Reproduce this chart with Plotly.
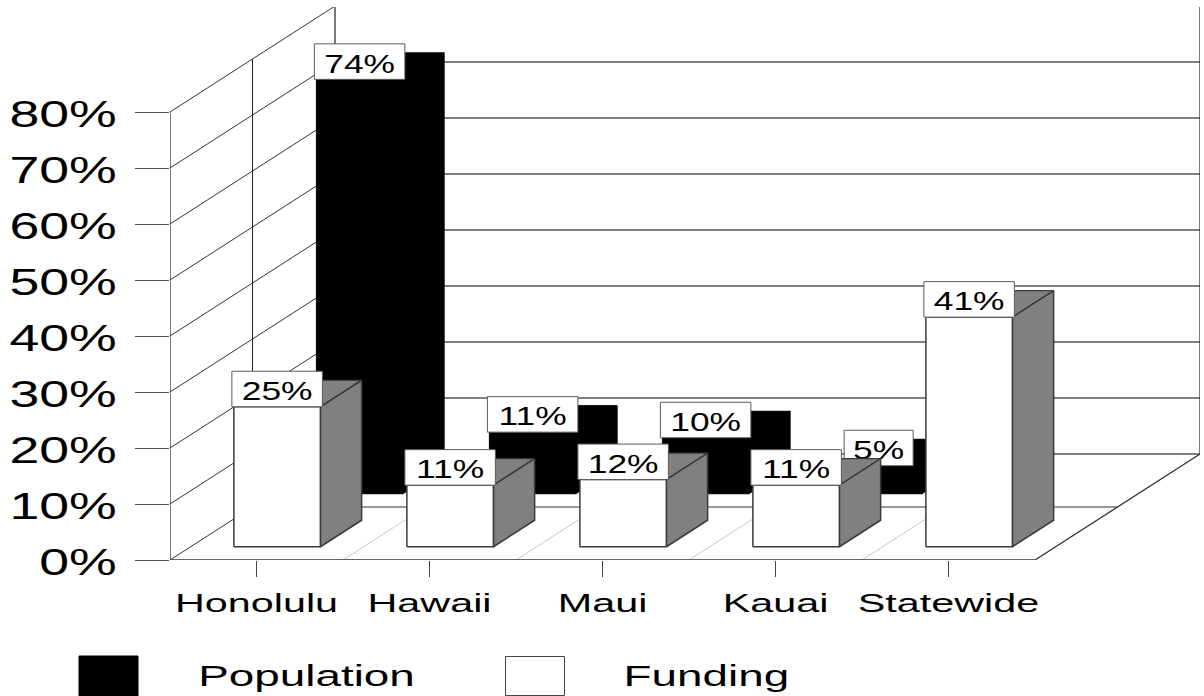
import plotly.graph_objects as go

categories = ["Honolulu", "Hawaii", "Maui", "Kauai", "Statewide"]
population = [74, 11, 10, 5, None]
funding = [25, 11, 12, 11, 41]
value_ticks = [0, 10, 20, 30, 40, 50, 60, 70, 80]
tick_labels = ["0%", "10%", "20%", "30%", "40%", "50%", "60%", "70%", "80%"]
legend_names = ["Population", "Funding"]

W, H = 1204, 696
PX_X = 173.0      # pixels per category
PX_Y = 5.6        # pixels per percent
L, T, R, B = 170, 7, 4, 136
DEPTH_X = 165 / PX_X   # oblique projection of full depth, in axis units
DEPTH_Y = 106 / PX_Y
BAR_W = 0.5
BAR_GAP = 0.25
FUND_D = (0.125, 0.375)
POP_D = (0.625, 0.875)
GREY = "#808080"
EDGE = "#3a3a3a"


def proj(x, v, d):
    return x + d * DEPTH_X, v + d * DEPTH_Y


def poly(points):
    xs, ys = zip(*[proj(*p) for p in points])
    return list(xs) + [xs[0], None], list(ys) + [ys[0], None]


def line_trace(segments, color, width, name):
    xs, ys = [], []
    for a, b in segments:
        p, q = proj(*a), proj(*b)
        xs += [p[0], q[0], None]
        ys += [p[1], q[1], None]
    return go.Scatter(x=xs, y=ys, mode="lines", line=dict(color=color, width=width),
                      hoverinfo="skip", showlegend=False, name=name)


def faces(values, depth):
    d0, d1 = depth
    front, side, top = ([], []), ([], []), ([], [])
    for i, v in enumerate(values):
        if v is None:
            continue
        x0, x1 = i + BAR_GAP, i + BAR_GAP + BAR_W
        for store, pts in (
            (front, [(x0, 0, d0), (x1, 0, d0), (x1, v, d0), (x0, v, d0)]),
            (side, [(x1, 0, d0), (x1, 0, d1), (x1, v, d1), (x1, v, d0)]),
            (top, [(x0, v, d0), (x1, v, d0), (x1, v, d1), (x0, v, d1)]),
        ):
            a, b = poly(pts)
            store[0].extend(a)
            store[1].extend(b)
    return front, side, top


def fill_trace(xy, fill, edge, width, name):
    return go.Scatter(x=xy[0], y=xy[1], mode="lines", fill="toself", fillcolor=fill,
                      line=dict(color=edge, width=width), hoverinfo="skip",
                      showlegend=False, name=name)


def labels(values, depth, name):
    bx, by, tx, ty, tt = [], [], [], [], []
    for i, v in enumerate(values):
        if v is None:
            continue
        s = f"{v}%"
        w = (69 if len(s) == 2 else 90.5) / PX_X
        h = 35.5 / PX_Y
        cx, base = proj(i + BAR_GAP + BAR_W / 2, v, depth[0])
        bx += [cx - w / 2, cx + w / 2, cx + w / 2, cx - w / 2, cx - w / 2, None]
        by += [base, base, base + h, base + h, base, None]
        tx.append(cx)
        ty.append(base + h / 2 - 4.5 / PX_Y)
        tt.append(s)
    return [
        go.Scatter(x=bx, y=by, mode="lines", fill="toself", fillcolor="white",
                   line=dict(color="#5a5a5a", width=1), hoverinfo="skip",
                   showlegend=False, name=name + " label box"),
        go.Scatter(x=tx, y=ty, mode="text", text=tt, textposition="middle center",
                   textfont=dict(family="Liberation Sans", size=26, color="black"),
                   hoverinfo="skip", showlegend=False, name=name + " labels"),
    ]


n = len(categories)
traces = []

# walls and floor
left_wall = [((0, v, 0), (0, v, 1)) for v in value_ticks]
back_wall = [((0, v, 1), (n, v, 1)) for v in value_ticks]
frame = [((0, 0, 0), (0, 80, 0)), ((0, 0, 1), (0, 80, 1)), ((n, 0, 1), (n, 80, 1)),
         ((0, 0, 0), (n, 0, 0)), ((n, 0, 0), (n, 0, 1))]
mid = [((0, 0, 0.5), (0, 80, 0.5))]
floor_mid = [((0, 0, 0.5), (n, 0, 0.5))]
floor_grid = [((i, 0, 0), (i, 0, 1)) for i in range(1, n)]
traces.append(line_trace(floor_grid, "#c8c8c8", 1, "floor grid"))
traces.append(line_trace(floor_mid, "#777777", 1.5, "floor mid"))
traces.append(line_trace(back_wall, "#555555", 1.3, "back wall"))
traces.append(line_trace(left_wall, "#333333", 1, "left wall"))
traces.append(line_trace(mid, "#222222", 1, "wall mid"))
traces.append(line_trace(frame, "#333333", 1.3, "frame"))

# population
pf, ps, pt = faces(population, POP_D)
for xy in (pf, ps, pt):
    traces.append(fill_trace(xy, "black", "black", 1, legend_names[0]))
traces += labels(population, POP_D, legend_names[0])

# funding
ff, fs, ft = faces(funding, FUND_D)
traces.append(fill_trace(ft, GREY, EDGE, 1.2, legend_names[1]))
traces.append(fill_trace(fs, GREY, EDGE, 1.5, legend_names[1]))
traces.append(fill_trace(ff, "white", EDGE, 1.5, legend_names[1]))
traces += labels(funding, FUND_D, legend_names[1])

fig = go.Figure(traces)


def px(x):
    return (x - L) / (W - L - R)


def py(y):
    return (H - B - y) / (H - B - T)


shapes = [
    dict(type="rect", xref="paper", yref="paper", x0=px(79), x1=px(138), y0=py(696), y1=py(656),
         fillcolor="black", line=dict(color="black", width=1)),
    dict(type="rect", xref="paper", yref="paper", x0=px(505.5), x1=px(564.5), y0=py(695.5), y1=py(656.5),
         fillcolor="white", line=dict(color="#444444", width=1)),
]
annotations = [
    dict(text=legend_names[0], xref="paper", yref="paper", x=px(306), y=py(676), xanchor="center",
         yanchor="middle", showarrow=False, font=dict(family="Liberation Sans", size=29, color="black")),
    dict(text=legend_names[1], xref="paper", yref="paper", x=px(706), y=py(676), xanchor="center",
         yanchor="middle", showarrow=False, font=dict(family="Liberation Sans", size=29, color="black")),
]

fig.update_layout(
    width=W, height=H, margin=dict(l=L, r=R, t=T, b=B, pad=0),
    paper_bgcolor="white", plot_bgcolor="white", showlegend=False,
    shapes=shapes, annotations=annotations,
    xaxis=dict(range=[0, (W - L - R) / PX_X], tickmode="array",
               tickvals=[i + 0.5 for i in range(n)], ticktext=categories,
               ticks="outside", ticklen=16, tickcolor="#444444", tickwidth=1,
               showgrid=False, zeroline=False, showline=False, ticklabelstandoff=4,
               tickfont=dict(family="Liberation Sans", size=26, color="black")),
    yaxis=dict(range=[0, (H - B - T) / PX_Y], tickmode="array",
               tickvals=value_ticks, ticktext=tick_labels,
               ticks="outside", ticklen=34, tickcolor="#555555", tickwidth=1,
               showgrid=False, zeroline=False, showline=False, ticklabelstandoff=11,
               tickfont=dict(family="Liberation Sans", size=36, color="black")),
)

stretch_js = """
document.body.style.margin = '0';
document.documentElement.style.overflow = 'hidden';
var stretch = function (sel, k) {
  document.querySelectorAll(sel).forEach(function (t) {
    var len = t.getComputedTextLength();
    t.setAttribute('lengthAdjust', 'spacingAndGlyphs');
    t.setAttribute('textLength', len * k);
  });
};
stretch('.ytick text', 1.49);
stretch('.xtick text', 1.59);
stretch('.textpoint text', 1.36);
stretch('.annotation-text', 1.58);
document.querySelectorAll('.ytick text').forEach(function (t) { t.setAttribute('dy', '2'); });
"""

fig.write_html("out.html", post_script=stretch_js, config=dict(displayModeBar=False))
